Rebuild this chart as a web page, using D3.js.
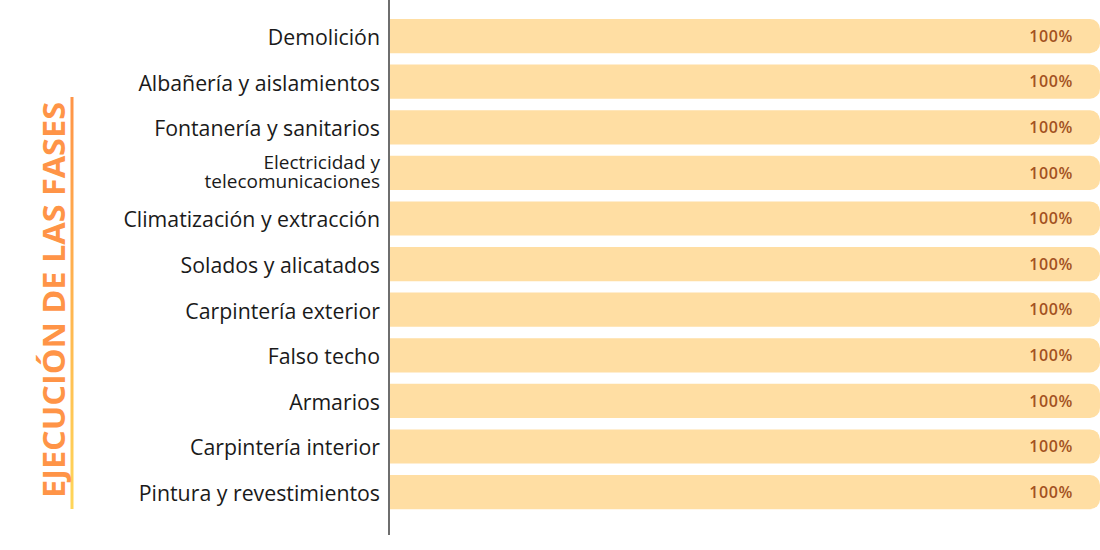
<!DOCTYPE html>
<html>
<head>
<meta charset="utf-8">
<script src="https://cdn.jsdelivr.net/npm/d3@7"></script>
<style>
  body { margin: 0; background: #fff; }
  svg { display: block; }
</style>
</head>
<body>
<svg id="chart" width="1100" height="550"></svg>
<script>
// phases (top to bottom) and completion values
const phases = [
  'Demolición',
  'Albañería y aislamientos',
  'Fontanería y sanitarios',
  'Electricidad y telecomunicaciones',
  'Climatización y extracción',
  'Solados y alicatados',
  'Carpintería exterior',
  'Falso techo',
  'Armarios',
  'Carpintería interior',
  'Pintura y revestimientos'
];
const progress = [100, 100, 100, 100, 100, 100, 100, 100, 100, 100, 100];
const title = 'EJECUCIÓN DE LAS FASES';

const data = phases.map((p, i) => ({ name: p, value: progress[i] }));

const svg = d3.select('#chart'),
  width = 1100,
  height = 550,
  margin = { left: 390, right: 0 };

const x = d3.scaleLinear().domain([0, 100]).range([margin.left, width - margin.right]);

const y = d3
  .scaleBand()
  .domain(phases)
  .range([13.3, 514.9])
  .paddingInner(0.25)
  .paddingOuter(0.125);

// title with gradient rule
const defs = svg.append('defs');
const grad = defs
  .append('linearGradient')
  .attr('id', 'rule')
  .attr('x1', 0).attr('y1', 0).attr('x2', 0).attr('y2', 1);
grad.append('stop').attr('offset', '0%').attr('stop-color', '#ff9447');
grad.append('stop').attr('offset', '100%').attr('stop-color', '#ffd659');

svg
  .append('rect')
  .attr('x', 70.5)
  .attr('y', 97)
  .attr('width', 3)
  .attr('height', 412)
  .attr('fill', 'url(#rule)');

svg
  .append('text')
  .attr('transform', 'translate(65,300) rotate(-90)')
  .attr('text-anchor', 'middle')
  .attr('font-family', 'Open Sans, sans-serif')
  .attr('font-weight', 700)
  .attr('font-size', 31)
  .attr('fill', '#ff9447')
  .attr('textLength', 396)
  .attr('lengthAdjust', 'spacingAndGlyphs')
  .text(title);

// bars, rounded at the right end only
const r = 10;
const barPath = d => {
  const x0 = x(0), x1 = x(d.value), y0 = y(d.name), h = y.bandwidth();
  return `M${x0},${y0}H${x1 - r}A${r},${r} 0 0 1 ${x1},${y0 + r}V${y0 + h - r}` +
    `A${r},${r} 0 0 1 ${x1 - r},${y0 + h}H${x0}Z`;
};

svg
  .append('g')
  .selectAll('path')
  .data(data)
  .enter()
  .append('path')
  .attr('d', barPath)
  .attr('fill', '#ffdea3');

// value labels
svg
  .append('g')
  .selectAll('text')
  .data(data)
  .enter()
  .append('text')
  .attr('x', d => x(d.value) - 27)
  .attr('y', d => y(d.name) + y.bandwidth() / 2)
  .attr('dy', '0.35em')
  .attr('text-anchor', 'end')
  .attr('font-family', 'Open Sans, sans-serif')
  .attr('font-weight', 600)
  .attr('font-size', 16)
  .attr('letter-spacing', 0.6)
  .attr('fill', '#a3521f')
  .text(d => d.value + '%');

// y axis (line only) with wrapped category labels
const yAxis = d3.axisLeft(y).tickSize(0).tickPadding(9);
const axisG = svg
  .append('g')
  .attr('transform', `translate(${margin.left - 1},0)`)
  .call(yAxis);

axisG.select('.domain').attr('d', 'M0,0V535').attr('stroke', '#6e6e6e').attr('stroke-width', 2);

axisG
  .selectAll('.tick text')
  .attr('font-family', 'Open Sans, sans-serif')
  .attr('font-size', 21.3)
  .attr('fill', '#1a1a1a')
  .attr('dy', '0.42em')
  .each(function (d) {
    const t = d3.select(this);
    if (d.length > 26) {
      // long label goes on two lines, tight leading
      const words = d.split(' ');
      const first = words.slice(0, 2).join(' ');
      const second = words.slice(2).join(' ');
      t.text(null).attr('font-size', 19).attr('dy', null);
      t.append('tspan').attr('x', -9).attr('dy', '-0.2em').text(first);
      t.append('tspan').attr('x', -9).attr('dy', '0.98em').text(second);
    }
  });
</script>
</body>
</html>
